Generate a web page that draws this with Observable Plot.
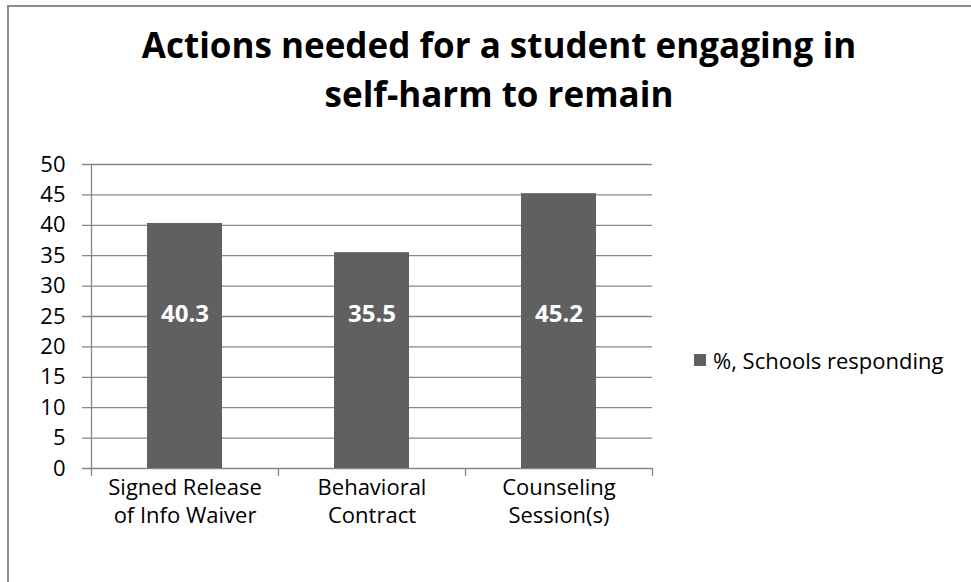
<!DOCTYPE html>
<html>
<head>
<meta charset="utf-8">
<script src="https://cdn.jsdelivr.net/npm/d3@7"></script>
<script src="https://cdn.jsdelivr.net/npm/@observablehq/plot@0.6"></script>
<style>
  html, body { margin: 0; padding: 0; background: #fff; }
  #wrap { position: relative; width: 971px; height: 582px; overflow: hidden; font-family: "Open Sans", sans-serif; }
  #border { position: absolute; left: 7px; top: 5px; width: 1000px; height: 1000px; border-left: 2px solid #8c8c8c; border-top: 2px solid #8c8c8c; }
  #title { position: absolute; left: 0; top: 20px; width: 998px; text-align: center; font-weight: 700; font-size: 35px; line-height: 49px; color: #000; }
  #chart { position: absolute; left: 0; top: 140px; }
  #legend { position: absolute; left: 694px; top: 345px; font-size: 22px; color: #000; display: flex; align-items: center; white-space: nowrap; }
  #legend .sw { width: 12px; height: 12px; background: #606060; margin-right: 7px; }
</style>
</head>
<body>
<div id="wrap">
  <div id="border"></div>
  <div id="title">Actions needed for a student engaging in<br>self-harm to remain</div>
  <div id="chart"></div>
  <div id="legend"><div class="sw"></div><span id="legtext"></span></div>
</div>
<script>
const categories = ["Signed Release\nof Info Waiver", "Behavioral\nContract", "Counseling\nSession(s)"];
const values = [40.3, 35.5, 45.2];
const yTicks = [0, 5, 10, 15, 20, 25, 30, 35, 40, 45, 50];
const seriesName = "%, Schools responding";

const data = categories.map((c, i) => ({cat: c, value: values[i]}));

const W = 971, H = 442;
const mL = 91, mR = 319, mT = 24, mB = 114;
const step = (W - mL - mR) / categories.length;
const gridColor = "#868686";

document.getElementById("legtext").textContent = seriesName;

const plot = Plot.plot({
  width: W,
  height: H,
  marginLeft: mL,
  marginRight: mR,
  marginTop: mT,
  marginBottom: mB,
  style: {fontFamily: "Open Sans, sans-serif", fontSize: "22px", color: "#000", background: "transparent"},
  x: {domain: categories, paddingInner: 0.6, paddingOuter: 0.3, axis: null},
  y: {domain: [0, 50], axis: null},
  marks: [
    Plot.ruleY(yTicks, {y: d => d, stroke: gridColor, strokeWidth: 1.3, insetLeft: -9}),
    Plot.barY(data, {x: "cat", y: "value", fill: "#606060"}),
    Plot.ruleX([categories[0]], {x: d => d, y1: 50, y2: 0, dx: -step / 2, stroke: gridColor, strokeWidth: 1.3, insetBottom: -8}),
    Plot.ruleX(categories.slice(1), {x: d => d, y1: 0, y2: 0, dx: -step / 2, stroke: gridColor, strokeWidth: 1.3, insetBottom: -8}),
    Plot.ruleX([categories[categories.length - 1]], {x: d => d, y1: 0, y2: 0, dx: step / 2, stroke: gridColor, strokeWidth: 1.3, insetBottom: -8}),
    Plot.text(yTicks, {x: () => categories[0], y: d => d, text: d => String(d), textAnchor: "end", dx: -step / 2 - 26, fill: "#000", fontSize: 22}),
    Plot.text(data, {x: "cat", y: () => 0, text: "cat", lineAnchor: "top", dy: 6, lineHeight: 1.3, fill: "#000", fontSize: 22}),
    Plot.text(data, {x: "cat", y: () => 25.3, text: d => d.value.toFixed(1), fill: "#fff", fontWeight: "bold", fontSize: 24})
  ]
});
document.getElementById("chart").appendChild(plot);
</script>
</body>
</html>
